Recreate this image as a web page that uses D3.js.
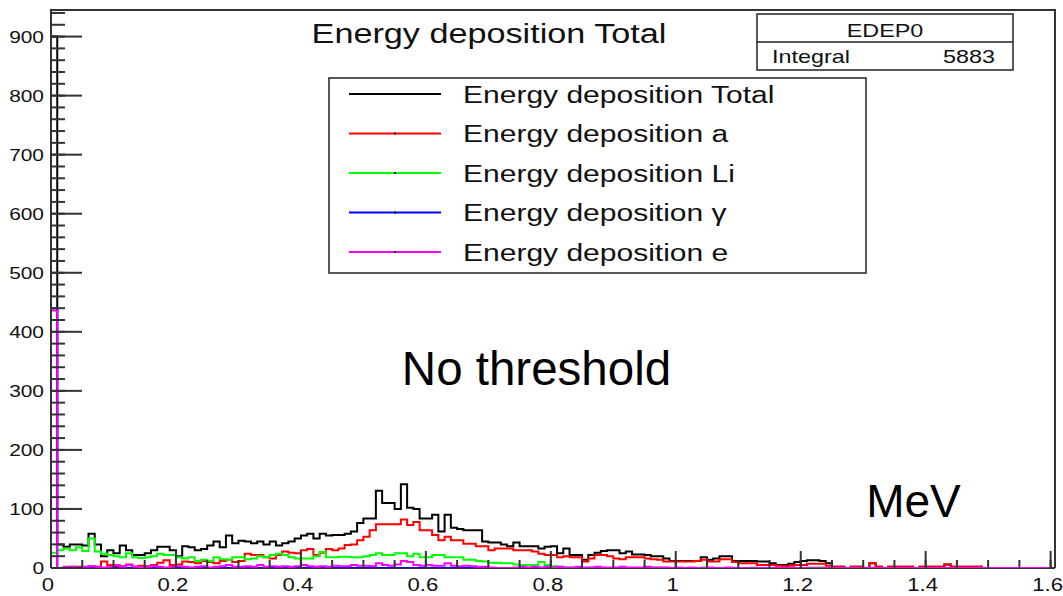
<!DOCTYPE html>
<html>
<head>
<meta charset="utf-8">
<script src="https://cdn.jsdelivr.net/npm/d3@7"></script>
<style>
  body { margin: 0; background: #fff; }
  svg { display: block; }
  text { font-family: "Liberation Sans", Arial, Helvetica, sans-serif; fill: #111; }
</style>
</head>
<body>
<svg id="chart" width="1063" height="596"></svg>
<script>
// Histogram binning: 160 bins of 0.01 MeV starting at 0
const binWidth = 0.01;
const xTickValues = [0, 0.2, 0.4, 0.6, 0.8, 1, 1.2, 1.4, 1.6];
const xTickLabels = ["0", "0.2", "0.4", "0.6", "0.8", "1", "1.2", "1.4", "1.6"];
const yTickValues = [0, 100, 200, 300, 400, 500, 600, 700, 800, 900];

// Counts per bin, one array per deposition component
const edepTotal = [
  900, 40, 36, 40, 40, 38, 58, 40, 20, 30,
  25, 38, 30, 22, 22, 25, 30, 36, 36, 30,
  20, 37, 35, 30, 32, 38, 45, 35, 55, 42,
  46, 45, 42, 45, 40, 45, 38, 42, 45, 50,
  55, 58, 50, 58, 55, 56, 56, 58, 62, 76,
  84, 84, 131, 110, 110, 100, 142, 102, 100, 84,
  84, 90, 62, 90, 68, 66, 64, 64, 64, 45,
  43, 43, 40, 37, 43, 37, 37, 37, 33, 36,
  37, 25, 33, 22, 22, 14, 22, 26, 29, 30,
  30, 25, 28, 23, 23, 22, 20, 20, 16, 12,
  12, 12, 12, 12, 18, 14, 16, 20, 20, 12,
  12, 12, 12, 11, 11, 8, 5, 5, 7, 10,
  12, 13, 13, 12, 8, 2, 2, 0, 2, 2,
  0, 8, 2, 0, 2, 2, 2, 2, 0, 2,
  2, 2, 2, 6, 2, 2, 2, 2, 2, 0,
  0, 0, 0, 0, 0, 0, 0, 0, 0, 0
];
const edepAlpha = [
  0, 0, 0, 2, 2, 0, 3, 2, 11, 5,
  2, 3, 6, 2, 4, 3, 5, 9, 13, 5,
  6, 11, 10, 8, 12, 10, 8, 12, 14, 10,
  12, 24, 22, 22, 18, 16, 22, 28, 26, 25,
  30, 32, 22, 26, 32, 30, 33, 39, 40, 47,
  53, 64, 74, 74, 74, 74, 82, 73, 78, 64,
  64, 56, 47, 53, 47, 47, 41, 41, 37, 37,
  30, 33, 33, 33, 30, 30, 30, 28, 24, 22,
  22, 18, 20, 18, 18, 11, 16, 22, 22, 20,
  16, 15, 18, 18, 18, 16, 15, 14, 11, 11,
  11, 11, 11, 12, 14, 11, 11, 15, 15, 10,
  8, 8, 8, 5, 5, 5, 4, 3, 4, 5,
  5, 7, 7, 7, 4, 2, 2, 0, 2, 2,
  0, 8, 2, 0, 2, 2, 2, 2, 0, 2,
  2, 2, 2, 6, 2, 2, 2, 2, 2, 0,
  0, 0, 0, 0, 0, 0, 0, 0, 0, 0
];
const edepLi = [
  26, 30, 33, 30, 35, 29, 50, 28, 24, 22,
  20, 18, 25, 18, 17, 18, 20, 24, 22, 22,
  18, 16, 18, 12, 14, 12, 18, 15, 14, 18,
  18, 15, 16, 20, 18, 22, 24, 22, 18, 16,
  16, 16, 20, 27, 18, 18, 19, 19, 18, 18,
  20, 22, 25, 22, 22, 25, 25, 20, 24, 18,
  18, 22, 22, 18, 18, 18, 14, 14, 12, 11,
  9, 9, 8, 8, 6, 5, 5, 5, 10, 5,
  3, 2, 1, 1, 0, 0, 1, 0, 0, 0,
  0, 0, 0, 0, 0, 0, 1, 1, 0, 0,
  0, 0, 0, 0, 1, 0, 0, 0, 0, 0,
  0, 0, 1, 0, 0, 0, 0, 0, 0, 0,
  0, 1, 1, 1, 0, 0, 0, 0, 0, 0,
  0, 0, 0, 0, 0, 0, 0, 0, 0, 0,
  0, 0, 0, 0, 0, 0, 0, 0, 0, 0,
  0, 0, 0, 0, 0, 0, 0, 0, 0, 0
];
const edepGamma = [
  440, 0, 0, 0, 0, 0, 0, 0, 0, 0,
  0, 0, 0, 0, 0, 0, 0, 0, 0, 0,
  0, 0, 0, 0, 0, 0, 0, 0, 0, 0,
  0, 0, 0, 0, 0, 0, 0, 0, 0, 0,
  0, 0, 0, 0, 0, 0, 0, 0, 0, 0,
  0, 0, 0, 0, 0, 0, 0, 0, 0, 0,
  0, 0, 0, 0, 0, 0, 0, 0, 0, 0,
  0, 0, 0, 0, 0, 0, 0, 0, 0, 0,
  0, 0, 0, 0, 0, 0, 0, 0, 0, 0,
  0, 0, 0, 0, 0, 0, 0, 0, 0, 0,
  0, 0, 0, 0, 0, 0, 0, 0, 0, 0,
  0, 0, 0, 0, 0, 0, 0, 0, 0, 0,
  0, 0, 0, 0, 0, 0, 0, 0, 0, 0,
  0, 0, 0, 0, 0, 0, 0, 0, 0, 0,
  0, 0, 0, 0, 0, 0, 0, 0, 0, 0,
  0, 0, 0, 0, 0, 0, 0, 0, 0, 0
];
const edepElectron = [
  436, 0, 2, 2, 1, 2, 3, 2, 1, 2,
  5, 2, 5, 2, 1, 2, 3, 2, 1, 2,
  3, 2, 1, 2, 3, 1, 2, 3, 5, 2,
  2, 3, 2, 5, 2, 3, 2, 3, 2, 3,
  5, 3, 2, 3, 2, 4, 3, 3, 5, 4,
  4, 3, 8, 5, 4, 6, 12, 10, 5, 4,
  5, 4, 4, 8, 4, 3, 4, 3, 2, 2,
  1, 0, 0, 0, 1, 2, 1, 2, 1, 2,
  1, 2, 1, 1, 2, 1, 1, 2, 1, 1,
  1, 2, 1, 1, 1, 2, 1, 1, 1, 0,
  1, 0, 1, 0, 0, 1, 0, 0, 1, 0,
  0, 0, 0, 0, 0, 0, 0, 0, 0, 0,
  0, 0, 0, 0, 0, 0, 0, 0, 0, 0,
  0, 0, 0, 0, 0, 0, 0, 0, 0, 0,
  0, 0, 0, 0, 0, 0, 0, 0, 0, 0,
  0, 0, 0, 0, 0, 0, 0, 0, 0, 0
];

const seriesNames = ["Energy deposition Total", "Energy deposition a", "Energy deposition Li",
                     "Energy deposition \u03b3", "Energy deposition e"];
const seriesColors = ["#000000", "#ff0000", "#00ff00", "#0000ff", "#ff00ff"];
const seriesData = [edepTotal, edepAlpha, edepLi, edepGamma, edepElectron];

const histName = "EDEP0";
const integralValue = 5883;

// ---- layout ----
const svg = d3.select("#chart");
const frame = { left: 51, right: 1055, top: 10, bottom: 568 };
const SX = 1.23; // horizontal stretch of the canvas text

const x = d3.scaleLinear().domain([0, 1.607]).range([frame.left, frame.right]);
const y = d3.scaleLinear().domain([0, 945]).range([frame.bottom, frame.top]);

function stretchedText(g, px, py, str, size, anchor) {
  return g.append("text")
    .attr("transform", `translate(${px},${py}) scale(${SX},1)`)
    .attr("text-anchor", anchor)
    .attr("font-size", size)
    .text(str);
}

svg.append("defs").append("clipPath").attr("id", "plotClip")
  .append("rect").attr("x", frame.left).attr("y", frame.top)
  .attr("width", frame.right - frame.left).attr("height", frame.bottom - frame.top);

// baseline of the frame, drawn first so the zero-level steps sit on it
svg.append("line")
  .attr("x1", frame.left).attr("x2", frame.right)
  .attr("y1", frame.bottom).attr("y2", frame.bottom)
  .attr("stroke", "#333").attr("stroke-width", 2);

// ---- histograms (step outlines) ----
const stepLine = d3.line().x(d => d[0]).y(d => d[1]);
function stepPoints(values) {
  const pts = [[x(0), y(0)]];
  values.forEach((v, i) => {
    pts.push([x(i * binWidth), y(v)]);
    pts.push([x((i + 1) * binWidth), y(v)]);
  });
  pts.push([x(values.length * binWidth), y(0)]);
  return pts;
}
const histG = svg.append("g").attr("clip-path", "url(#plotClip)");
seriesData.forEach((vals, k) => {
  histG.append("path")
    .attr("d", stepLine(stepPoints(vals)))
    .attr("fill", "none")
    .attr("stroke", seriesColors[k])
    .attr("stroke-width", 2)
    .attr("stroke-linejoin", "miter");
});

// ---- frame and axes ----
const axisColor = "#333";
const axG = svg.append("g");

// y axis ticks (drawn inward) and labels
const yMinor = d3.range(0, 945, 20);
axG.selectAll("line.ymin").data(yMinor).join("line")
  .attr("x1", frame.left).attr("x2", frame.left + 14)
  .attr("y1", d => y(d)).attr("y2", d => y(d))
  .attr("stroke", axisColor).attr("stroke-width", 2);
axG.selectAll("line.ymaj").data(yTickValues).join("line")
  .attr("x1", frame.left).attr("x2", frame.left + 31)
  .attr("y1", d => y(d)).attr("y2", d => y(d))
  .attr("stroke", axisColor).attr("stroke-width", 2);
yTickValues.forEach(v => stretchedText(axG, 44, y(v) + 6, String(v), 17, "end"));

// x axis ticks (drawn upward) and labels
const xMinor = d3.range(0, 32).map(i => i * 0.05 + 0.05).filter(v => v < 1.6 + 1e-9);
axG.selectAll("line.xmin").data(xMinor).join("line")
  .attr("x1", d => x(d)).attr("x2", d => x(d))
  .attr("y1", frame.bottom).attr("y2", frame.bottom - 8)
  .attr("stroke", axisColor).attr("stroke-width", 2);
axG.selectAll("line.xmaj").data(xTickValues).join("line")
  .attr("x1", d => x(d)).attr("x2", d => x(d))
  .attr("y1", frame.bottom).attr("y2", frame.bottom - 17)
  .attr("stroke", axisColor).attr("stroke-width", 2);
xTickValues.forEach((v, i) => stretchedText(axG, x(v) - 3, 591, xTickLabels[i], 18, "middle"));

// frame outline
axG.append("path")
  .attr("d", `M${frame.left},${frame.bottom}V${frame.top}H${frame.right}V${frame.bottom}`)
  .attr("fill", "none").attr("stroke", axisColor).attr("stroke-width", 2);

// ---- title ----
stretchedText(svg, 489, 43, "Energy deposition Total", 27.8, "middle");

// ---- statistics box ----
const stats = svg.append("g");
stats.append("rect").attr("x", 757).attr("y", 14).attr("width", 256).attr("height", 56)
  .attr("fill", "#fff").attr("stroke", "#222").attr("stroke-width", 1.5);
stats.append("line").attr("x1", 757).attr("x2", 1013).attr("y1", 42).attr("y2", 42)
  .attr("stroke", "#222").attr("stroke-width", 1.5);
stretchedText(stats, 885, 37, histName, 19, "middle");
stretchedText(stats, 772, 63, "Integral", 19, "start");
stretchedText(stats, 995, 63, String(integralValue), 19, "end");

// ---- legend ----
const legend = svg.append("g");
legend.append("rect").attr("x", 329).attr("y", 78).attr("width", 537).attr("height", 195)
  .attr("fill", "#fff").attr("stroke", "#222").attr("stroke-width", 1.5);
seriesNames.forEach((name, k) => {
  const cy = 94 + k * 39.5;
  legend.append("line").attr("x1", 349).attr("x2", 441).attr("y1", cy).attr("y2", cy)
    .attr("stroke", seriesColors[k]).attr("stroke-width", 2);
  if (k > 0) {
    legend.append("rect").attr("x", 394).attr("y", cy - 1).attr("width", 2).attr("height", 2)
      .attr("fill", "#000");
  }
  stretchedText(legend, 463, cy + 8.5, name, 24.4, "start");
});

// ---- annotations ----
svg.append("text").attr("x", 536.5).attr("y", 385).attr("text-anchor", "middle")
  .attr("font-size", 47.5).style("fill", "#000").text("No threshold");
svg.append("text").attr("x", 913.5).attr("y", 517).attr("text-anchor", "middle")
  .attr("font-size", 46).style("fill", "#000").text("MeV");
</script>
</body>
</html>
